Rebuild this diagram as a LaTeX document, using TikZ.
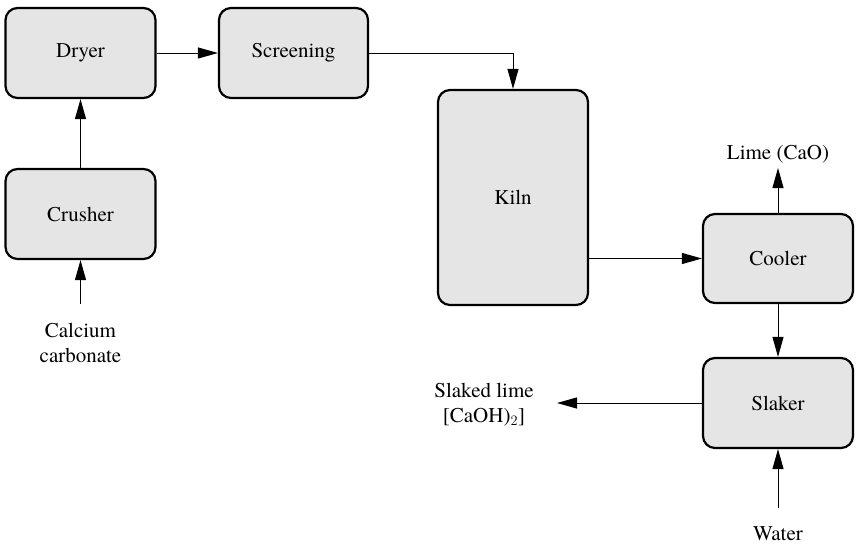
\documentclass[tikz,border=0pt]{standalone}
\usepackage{fontspec}
\setmainfont{TeX Gyre Termes}
\usetikzlibrary{arrows.meta}
\begin{document}
\begin{tikzpicture}[x=1pt,y=-1pt,
  unit/.style={draw=black, line width=2.2pt, fill=gray!20, rounded corners=12pt,
    minimum width=150pt, minimum height=90pt, inner sep=0pt,
    font=\fontsize{21}{25}\selectfont},
  lbl/.style={align=center, inner sep=0pt, font=\fontsize{21}{25}\selectfont},
  flow/.style={line width=1pt, -{Triangle[length=20pt,width=11pt]}}]
\useasboundingbox (0,0) rectangle (859,546);
\node[unit] (dryer) at (80.5,53) {Dryer};
\node[unit, minimum width=149pt] (screening) at (293.5,53) {Screening};
\node[unit, minimum height=215pt] (kiln) at (513,197.5) {Kiln};
\node[unit] (crusher) at (80.5,214) {Crusher};
\node[unit, minimum height=89pt] (cooler) at (778,258.5) {Cooler};
\node[unit] (slaker) at (778,403) {Slaker};
\coordinate (feed) at (80.5,304);
\node[lbl] (calcium) at (80.5,343) {Calcium\\carbonate};
\coordinate (limeend) at (778,168);
\node[lbl] (lime) at (778,154) {Lime (CaO)};
\coordinate (slakedend) at (557,403);
\node[lbl] (slaked) at (484,405) {Slaked lime\\{[CaOH)$_2$]}};
\coordinate (waterin) at (778,508);
\node[lbl] (water) at (778,534) {Water};
\draw[flow] (dryer.east) -- (screening.west);
\draw[flow] (screening.east) -| (kiln.north);
\draw[flow] (crusher.north) -- (dryer.south);
\draw[flow] (feed) -- (crusher.south);
\draw[flow] (cooler.west -| kiln.east) -- (cooler.west);
\draw[flow] (cooler.north) -- (limeend);
\draw[flow] (cooler.south) -- (slaker.north);
\draw[flow] (slaker.west) -- (slakedend);
\draw[flow] (waterin) -- (slaker.south);
\end{tikzpicture}
\end{document}
